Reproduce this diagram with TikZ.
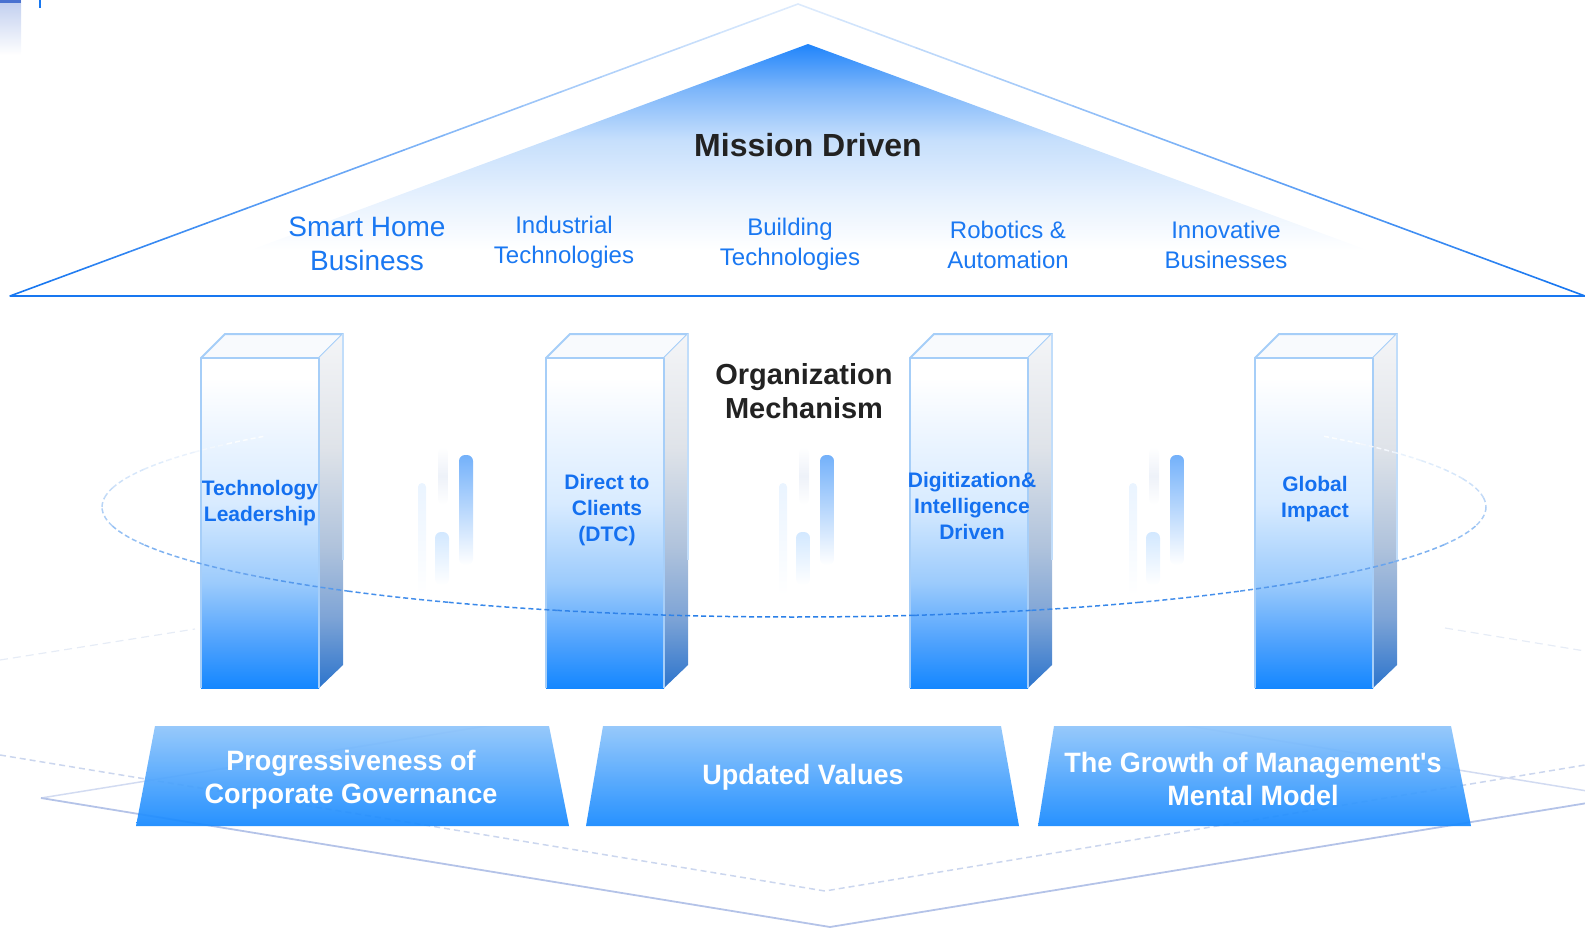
\documentclass[tikz,border=0pt]{standalone}
\usepackage{fontspec}
\setmainfont{Liberation Sans}
\newfontfamily\bannerfont[FakeStretch=0.965]{Liberation Sans}

\definecolor{roofA}{HTML}{1F84FB}
\definecolor{roofB}{HTML}{7DB6FA}
\definecolor{roofC}{HTML}{C6DFFC}
\definecolor{roofD}{HTML}{E8F2FE}
\definecolor{roofline}{HTML}{1877F0}
\definecolor{roofpale}{HTML}{E6F0FD}
\definecolor{txtblue}{HTML}{1A78F2}
\definecolor{lblblue}{HTML}{1470F0}
\definecolor{titlegray}{HTML}{222222}
\definecolor{pilB}{HTML}{1487FF}
\definecolor{pilQ}{HTML}{4FA2FD}
\definecolor{pilM}{HTML}{9CCBFC}
\definecolor{pilL}{HTML}{D8EBFF}
\definecolor{pilT}{HTML}{EEF6FF}
\definecolor{sideB}{HTML}{2C74CC}
\definecolor{sideQ}{HTML}{7EA4D6}
\definecolor{sideM}{HTML}{B0C3DC}
\definecolor{sideL}{HTML}{DFE3E9}
\definecolor{sideT}{HTML}{F4F5F7}
\definecolor{pilline}{HTML}{A6CEF8}
\definecolor{topface}{HTML}{F8FAFD}
\definecolor{ellD}{HTML}{2A7FE8}
\definecolor{ellL}{HTML}{B9D5F6}
\definecolor{banT}{HTML}{8FC5FB}
\definecolor{banB}{HTML}{1689FF}
\definecolor{bgline}{HTML}{B4C3E8}
\definecolor{bgdash}{HTML}{CBD6EE}
\definecolor{bgfaint}{HTML}{E6ECF6}
\definecolor{cornerblue}{HTML}{4A72D0}

\pgfdeclareverticalshading{roofshade}{100bp}{color(0bp)=(white); color(25bp)=(white);
  color(34bp)=(white); color(44bp)=(roofD); color(56bp)=(roofC); color(66bp)=(roofB);
  color(75bp)=(roofA); color(100bp)=(roofA)}
\pgfdeclareverticalshading{pillarfront}{100bp}{color(0bp)=(pilB); color(25bp)=(pilB);
  color(32bp)=(pilQ); color(41bp)=(pilM); color(53bp)=(pilL); color(64bp)=(pilT);
  color(72bp)=(white); color(100bp)=(white)}
\pgfdeclareverticalshading{pillarside}{100bp}{color(0bp)=(sideB); color(25bp)=(sideB);
  color(35bp)=(sideQ); color(45bp)=(sideM); color(59bp)=(sideL); color(75bp)=(sideT);
  color(100bp)=(sideT)}

\begin{document}
\begin{tikzpicture}[x=1pt,y=-1pt,
  roofitem/.style={text=txtblue,align=center,inner sep=0,font=\fontsize{24}{30}\selectfont},
  heading/.style={text=titlegray,align=center,inner sep=0,font=\bfseries\fontsize{29}{34}\selectfont},
  pillarlabel/.style={text=lblblue,align=center,inner sep=0,font=\bfseries\fontsize{21}{26}\selectfont},
  bannerlabel/.style={text=white,align=center,inner sep=0,font=\bannerfont\bfseries\fontsize{28}{33}\selectfont},
  banner/.style={top color=banT,bottom color=banB,opacity=0.93},
  pillaredge/.style={draw=pilline,line width=2,line join=round},
  ellipseline/.style={line width=1.5,dash pattern=on 5pt off 3pt},
  minibar/.style={rounded corners=6}]
\useasboundingbox (0,0) rectangle (1585,927);

% left-over corner bits
\shade[top color=cornerblue!35,bottom color=white] (0,0) rectangle (21,55);
\fill[cornerblue] (0,0) rectangle (21,2.5);
\draw[roofline,line width=2] (40,0) -- (40,8);

% floor lines
\draw[bgfaint,line width=1.2,dash pattern=on 8pt off 5pt] (0,660) -- (195,629);
\draw[bgfaint,line width=1.2,dash pattern=on 8pt off 5pt] (1445,628) -- (1585,651);
\draw[bgdash,line width=1.5,dash pattern=on 6pt off 4pt] (0,755) -- (825,891) -- (1585,765);
\begin{scope}
  \clip (0,726) rectangle (1585,927);
  \draw[bgline!60,line width=1.5] (41,798) -- (839,669) -- (1624,797);
\end{scope}
\draw[bgline,line width=1.8] (41,798) -- (830,927) -- (1624,797);

% roof
\shade[shading=roofshade] (808,44) -- (1492,296) -- (126,296) -- cycle;
\foreach \i in {0,...,19}{
  \pgfmathtruncatemacro\pc{5*\i+5}
  \draw[roofline!\pc!roofpale,line width=1.6,line cap=round]
    ({798-39.4*\i},{4+14.6*\i}) -- ({798-39.4*(\i+1)},{4+14.6*(\i+1)});
  \draw[roofline!\pc!roofpale,line width=1.6,line cap=round]
    ({798+39.35*\i},{4+14.6*\i}) -- ({798+39.35*(\i+1)},{4+14.6*(\i+1)});
}
\draw[roofline,line width=2] (10,296) -- (1585,296);

\node[heading,font=\bfseries\fontsize{32}{36}\selectfont] (mission) at (808,145) {Mission Driven};
\node[roofitem,font=\fontsize{28}{34}\selectfont] (smart) at (367,244) {Smart Home\\Business};
\node[roofitem] (industrial) at (564,242) {Industrial\\Technologies};
\node[roofitem] (building) at (790,244) {Building\\Technologies};
\node[roofitem] (robotics) at (1008,245) {Robotics \&\\Automation};
\node[roofitem] (innovative) at (1226,245) {Innovative\\Businesses};

% small bars between pillars
\foreach \dx in {0,361,711}{
  \shade[minibar,top color=white,bottom color=white,middle color=bgfaint!70]
    ({438+\dx},447) rectangle ({448+\dx},505);
  \shade[minibar,rounded corners=4,top color=pilT!80!pilL,bottom color=white]
    ({418+\dx},483) rectangle ({426+\dx},595);
  \shade[minibar,top color=pilL!90!pilM,bottom color=white]
    ({435+\dx},532) rectangle ({449+\dx},585);
  \shade[minibar,top color=roofB!90!roofA,bottom color=white]
    ({459+\dx},455) rectangle ({473+\dx},565);
}

% pillars
\foreach \px in {201,546,910,1255}{
  \filldraw[pillaredge,fill=topface] (\px,358) -- ({\px+24},334) -- ({\px+142},334) -- ({\px+118},358) -- cycle;
  \shade[shading=pillarside] ({\px+118},358) -- ({\px+142},334) -- ({\px+142},665) -- ({\px+118},688) -- cycle;
  \draw[pillaredge,draw=pilline!70] ({\px+142},334) -- ({\px+142},560);
  \shade[shading=pillarfront] (\px,358) rectangle ({\px+118},688);
  \draw[pillaredge] (\px,688) -- (\px,358) -- ({\px+118},358) -- ({\px+118},688);
}

% orbit round the pillars
\foreach \t in {180,185,...,215}{
  \pgfmathtruncatemacro\pc{100-(\t-180)*2.7}
  \pgfmathsetmacro\te{\t+5}
  \draw[ellipseline,ellL!\pc!white] plot[domain=\t:\te,samples=4] ({794+692*cos(\x)},{507+110*sin(\x)});
}
\foreach \t in {320,325,...,355}{
  \pgfmathtruncatemacro\pc{5+(\t-320)*2.7}
  \pgfmathsetmacro\te{\t+5}
  \draw[ellipseline,ellL!\pc!white] plot[domain=\t:\te,samples=4] ({794+692*cos(\x)},{507+110*sin(\x)});
}
\foreach \t in {0,10,...,170}{
  \pgfmathtruncatemacro\pc{100*sin(\t+5)}
  \pgfmathsetmacro\te{\t+10}
  \draw[ellipseline,ellD!\pc!ellL] plot[domain=\t:\te,samples=8] ({794+692*cos(\x)},{507+110*sin(\x)});
}

\node[pillarlabel] (techlead) at (260,503) {Technology\\Leadership};
\node[pillarlabel] (dtc) at (607,510) {Direct to\\Clients\\(DTC)};
\node[pillarlabel] (digital) at (972,506) {Digitization\&\\Intelligence\\Driven};
\node[pillarlabel] (globalimp) at (1315,499) {Global\\Impact};

\node[heading] (orgmech) at (804,391) {Organization\\Mechanism};

% foundation banners
\shade[banner] (155,726) -- (549,726) -- (569,826) -- (136,826) -- cycle;
\shade[banner] (603,726) -- (1001,726) -- (1019,826) -- (586,826) -- cycle;
\shade[banner] (1054,726) -- (1451,726) -- (1471,826) -- (1038,826) -- cycle;
\node[bannerlabel] (governance) at (351,780) {Progressiveness of\\Corporate Governance};
\node[bannerlabel] (values) at (803,777) {Updated Values};
\node[bannerlabel] (mentalmodel) at (1253,779) {The Growth of Management's\\Mental Model};

\end{tikzpicture}
\end{document}
